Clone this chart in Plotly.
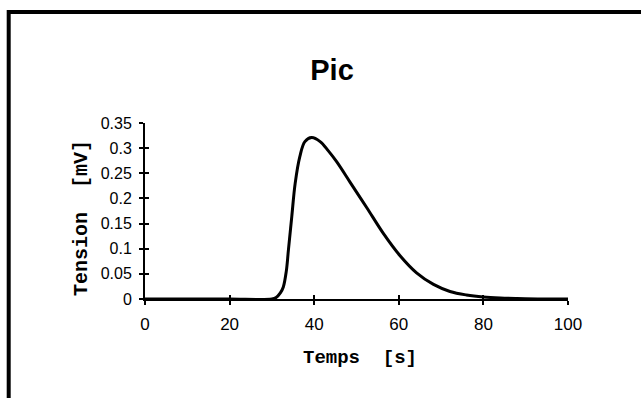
import plotly.graph_objects as go

# Data
temps = [0, 10, 20, 30, 31.0, 32.0, 32.7, 33.4, 33.9, 34.7, 35.5, 36.6, 37.8, 39.4,
         41.4, 43.3, 45.3, 48.5, 52.4, 56.3, 60.3, 64.2, 68.2, 72.1, 76, 80, 84, 88, 94, 100]
tension = [0, 0, 0, 0, 0.003, 0.012, 0.024, 0.055, 0.097, 0.164, 0.23, 0.283, 0.313, 0.321,
           0.313, 0.295, 0.273, 0.232, 0.182, 0.131, 0.086, 0.052, 0.029, 0.015, 0.008, 0.004,
           0.002, 0.001, 0, 0]
x_ticks = [0, 20, 40, 60, 80, 100]
y_ticks = [0, 0.05, 0.1, 0.15, 0.2, 0.25, 0.3, 0.35]
y_ticklabels = ["0", "0.05", "0.1", "0.15", "0.2", "0.25", "0.3", "0.35"]

W, H = 641, 398
L, R, T, B = 145, 73, 123, 99
pw, ph = W - L - R, H - T - B

def px(x):
    return (x - L) / pw

def py(y):
    return (H - B - y) / ph

fig = go.Figure()
fig.add_trace(go.Scatter(x=temps, y=tension, mode="lines",
                         line=dict(color="black", width=3, shape="spline", smoothing=1.0),
                         showlegend=False, hoverinfo="skip", cliponaxis=False))

tickfont_y = dict(family="Liberation Sans, Arial", size=16, color="black")
tickfont_x = dict(family="Liberation Sans, Arial", size=17, color="black")

common = dict(showgrid=False, zeroline=False, tickcolor="black", tickwidth=1.5, ticklen=4)

fig.update_layout(
    width=W, height=H,
    margin=dict(l=L, r=R, t=T, b=B, pad=0),
    paper_bgcolor="white", plot_bgcolor="white",
    xaxis=dict(range=[0, 100], type="linear", tickvals=x_ticks, ticktext=[str(v) for v in x_ticks],
               showline=True, linecolor="black", linewidth=2, ticks="outside",
               tickfont=tickfont_x, ticklabelstandoff=5, **common),
    yaxis=dict(range=[0, 0.35], type="linear", tickvals=y_ticks, ticktext=y_ticklabels,
               showline=True, linecolor="black", linewidth=2, ticks="outside",
               tickfont=tickfont_y, ticklabelstandoff=4, **common),
    xaxis2=dict(range=[0, 100], type="linear", overlaying="x", anchor="y2", side="bottom",
                tickvals=x_ticks, showticklabels=False, showline=False, ticks="inside", **common),
    yaxis2=dict(range=[0, 0.35], type="linear", overlaying="y", anchor="x2", side="left",
                tickvals=y_ticks, showticklabels=False, showline=False, ticks="inside", **common),
    title=dict(text="<b>Pic</b>", x=332 / W, xanchor="center", y=1 - 70 / H, yanchor="middle",
               font=dict(family="Liberation Sans, Arial", size=29, color="black")),
)

# invisible companion trace so the inner tick axes are drawn
fig.add_trace(go.Scatter(x=[0], y=[0], xaxis="x2", yaxis="y2", mode="markers",
                         marker=dict(opacity=0), showlegend=False, hoverinfo="skip"))

monofont = "Liberation Mono, Courier New, monospace"
fig.add_annotation(text="<b>Temps  [s]</b>", xref="paper", yref="paper",
                   x=px(360), y=py(358), xanchor="center", yanchor="middle", showarrow=False,
                   font=dict(family=monofont, size=19, color="black"))
fig.add_annotation(text="<b>Tension  [mV]</b>", xref="paper", yref="paper",
                   x=px(81), y=py(218), xanchor="center", yanchor="middle", showarrow=False,
                   textangle=-90, font=dict(family=monofont, size=20, color="black"))

# frame
fig.add_shape(type="line", xref="paper", yref="paper", x0=px(7), x1=px(W + 5), y0=py(12), y1=py(12),
              line=dict(color="black", width=4))
fig.add_shape(type="line", xref="paper", yref="paper", x0=px(8.7), x1=px(8.7), y0=py(10), y1=py(H + 5),
              line=dict(color="black", width=4))

fig.write_html("out.html")
